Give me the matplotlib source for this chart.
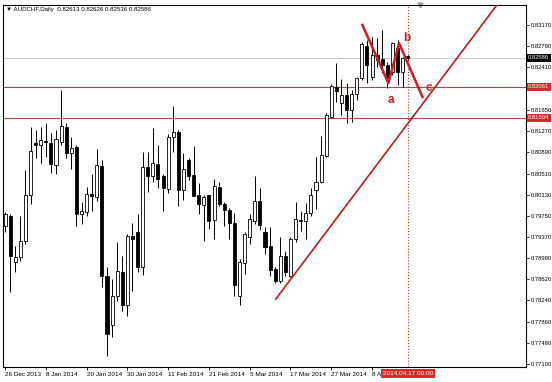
import pandas as pd
import matplotlib.pyplot as plt
import matplotlib.transforms as mtransforms

plt.rcParams['font.family'] = ['Liberation Sans', 'DejaVu Sans']

# AUDCHF daily OHLC, 26 Dec 2013 - 17 Apr 2014
opens = [0.79563, 0.79742, 0.78920, 0.79010, 0.79295, 0.80117, 0.81063, 0.81027, 0.81099, 0.81063,
         0.80670, 0.81081, 0.81349, 0.80884, 0.80991, 0.79777, 0.79813, 0.80138, 0.80084, 0.80652,
         0.78678, 0.77796, 0.78317, 0.78742, 0.78153, 0.79385, 0.79456, 0.78831, 0.80634, 0.80474,
         0.80688, 0.80474, 0.80224, 0.81170, 0.81259, 0.80206, 0.80759, 0.80492, 0.80120, 0.79938,
         0.80117, 0.79670, 0.80277, 0.79956, 0.79849, 0.79617, 0.78317, 0.78903, 0.79367, 0.79652,
         0.80010, 0.79456, 0.79206, 0.78795, 0.78581, 0.79028, 0.78678, 0.79331, 0.79670, 0.79652,
         0.79795, 0.80206, 0.80367, 0.80831, 0.81527, 0.82063, 0.81777, 0.81920, 0.81652, 0.81938,
         0.82223, 0.82795, 0.82241, 0.82634, 0.82563, 0.82456, 0.82331, 0.82759, 0.82331, 0.82613]
highs = [0.79813, 0.79777, 0.79206, 0.79742, 0.80581, 0.81349, 0.81295, 0.81349, 0.81420, 0.81241,
         0.81295, 0.82009, 0.81420, 0.81170, 0.81027, 0.79992, 0.80277, 0.80509, 0.80956, 0.80759,
         0.78831, 0.78617, 0.79278, 0.79028, 0.79420, 0.79617, 0.79777, 0.80902, 0.80902, 0.81331,
         0.81027, 0.80509, 0.81224, 0.81723, 0.81295, 0.80884, 0.80795, 0.81009, 0.80349, 0.80120,
         0.80130, 0.80420, 0.80367, 0.79992, 0.79885, 0.79795, 0.78974, 0.79456, 0.79777, 0.80474,
         0.80259, 0.79545, 0.79545, 0.78831, 0.79367, 0.79117, 0.79367, 0.79992, 0.79831, 0.79974,
         0.80259, 0.80813, 0.81188, 0.81599, 0.82116, 0.82491, 0.82206, 0.82134, 0.82009, 0.82241,
         0.82866, 0.82902, 0.82955, 0.82938, 0.83080, 0.82509, 0.82860, 0.82902, 0.82598, 0.82626]
lows = [0.79456, 0.78385, 0.78742, 0.78938, 0.79242, 0.79956, 0.80795, 0.80706, 0.80813, 0.80527,
        0.80509, 0.81027, 0.80795, 0.80599, 0.79563, 0.79599, 0.79742, 0.79831, 0.80010, 0.78481,
        0.77242, 0.77581, 0.78224, 0.78046, 0.77956, 0.78403, 0.78742, 0.78695, 0.80188, 0.80367,
        0.80259, 0.79831, 0.80156, 0.80902, 0.79920, 0.80027, 0.80402, 0.80117, 0.79777, 0.79295,
        0.79510, 0.79331, 0.79920, 0.79563, 0.79331, 0.78317, 0.78153, 0.78706, 0.79242, 0.79599,
        0.79492, 0.79063, 0.78678, 0.78545, 0.78545, 0.78678, 0.78660, 0.79278, 0.79474, 0.79331,
        0.79742, 0.79867, 0.80349, 0.80813, 0.81509, 0.81795, 0.81563, 0.81420, 0.81438, 0.81831,
        0.82188, 0.82134, 0.82188, 0.82420, 0.82313, 0.82045, 0.82277, 0.82098, 0.82063, 0.82536]
closes = [0.79777, 0.79028, 0.79010, 0.79295, 0.80117, 0.80920, 0.81027, 0.81116, 0.81081, 0.80688,
          0.81134, 0.81366, 0.80884, 0.80974, 0.79777, 0.79831, 0.80138, 0.80102, 0.80670, 0.78678,
          0.77635, 0.78317, 0.78760, 0.78153, 0.79385, 0.79331, 0.78831, 0.80634, 0.80474, 0.80706,
          0.80420, 0.80242, 0.81170, 0.81259, 0.80206, 0.80599, 0.80474, 0.80102, 0.79956, 0.80084,
          0.79652, 0.80295, 0.79956, 0.79849, 0.79617, 0.78510, 0.78920, 0.79420, 0.79688, 0.80010,
          0.79581, 0.79188, 0.78778, 0.78581, 0.79028, 0.78742, 0.79331, 0.79688, 0.79652, 0.79795,
          0.80120, 0.80367, 0.80849, 0.81563, 0.82081, 0.81991, 0.81920, 0.81652, 0.81938, 0.82223,
          0.82830, 0.82456, 0.82634, 0.82545, 0.82456, 0.82241, 0.82848, 0.82331, 0.82581, 0.82586]

# trading days (no bar on 1 Jan)
dates = pd.bdate_range('2013-12-26', '2014-04-17')
dates = dates[dates != pd.Timestamp('2014-01-01')]

date_ticks = ['2013-12-26', '2014-01-08', '2014-01-20', '2014-01-30', '2014-02-11',
              '2014-02-21', '2014-03-05', '2014-03-17', '2014-03-27', '2014-04-08']
date_labels = ['26 Dec 2013', '8 Jan 2014', '20 Jan 2014', '30 Jan 2014', '11 Feb 2014',
               '21 Feb 2014', '5 Mar 2014', '17 Mar 2014', '27 Mar 2014', '8 Apr 2014']

price_ticks = [0.83170, 0.82790, 0.82410, 0.81650, 0.81270, 0.80890, 0.80510, 0.80130,
               0.79750, 0.79370, 0.78990, 0.78620, 0.78240, 0.77860, 0.77480, 0.77100]

bid = 0.82586
levels = [0.82061, 0.81504]

# drawn objects (bar index, price)
trend_x = [53.1, 96.5]
trend_y = [0.78260, 0.83527]
zigzag_x = [70.1, 75.2, 77.3, 81.9]
zigzag_y = [0.83170, 0.82129, 0.82843, 0.81879]
wave_labels = ['a', 'b', 'c']
wave_x = [75.8, 78.8, 83.1]
wave_y = [0.81831, 0.82938, 0.82045]
cursor_idx = 79

fig = plt.figure(figsize=(5.52, 3.82), dpi=100)
ax = fig.add_axes([3 / 552, 1 - 367 / 382, 523 / 552, 362 / 382])

x = list(range(len(opens)))

# candles
ax.vlines(x, lows, highs, color='black', linewidth=0.7, zorder=2)
bottoms = [min(o, c) for o, c in zip(opens, closes)]
heights = [max(abs(c - o), 0.00006) for o, c in zip(opens, closes)]
colors = ['white' if c >= o else 'black' for o, c in zip(opens, closes)]
ax.bar(x, heights, bottom=bottoms, width=0.6, color=colors, edgecolor='black',
       linewidth=0.6, zorder=3)

# lines
ax.axhline(bid, color='#c8c8c8', linewidth=0.7, zorder=1)
for lv in levels:
    ax.axhline(lv, color='#b04848', linewidth=0.8, zorder=1)
ax.axvline(cursor_idx, color='#c03030', linestyle=':', linewidth=0.8, zorder=1)

slope = (trend_y[1] - trend_y[0]) / (trend_x[1] - trend_x[0])
ax.plot([trend_x[0], 110], [trend_y[0], trend_y[0] + slope * (110 - trend_x[0])],
        color='#b81e1e', linewidth=1.2, zorder=4)
ax.plot(zigzag_x, zigzag_y, color='#cc2020', linewidth=1.8, zorder=4)
for t, wx, wy in zip(wave_labels, wave_x, wave_y):
    ax.text(wx, wy, t, color='#cc2020', fontsize=8.5, fontweight='bold',
            ha='center', va='center', zorder=5)

# chart shift marker
ax.plot([81.4], [1.0], marker='v', color='#a0a0a0', markersize=3.5, clip_on=False,
        transform=mtransforms.blended_transform_factory(ax.transData, ax.transAxes))

ax.set_xlim(-0.4, 102.2)
ax.set_ylim(0.77046, 0.83527)

ax.yaxis.tick_right()
ax.set_yticks(price_ticks)
ax.set_yticklabels(['%.5f' % p for p in price_ticks])
tick_pos = [dates.get_loc(pd.Timestamp(d)) for d in date_ticks]
ax.set_xticks(tick_pos)
ax.set_xticklabels(date_labels, ha='left')
ax.tick_params(axis='both', length=2, width=0.6, pad=1.5, colors='black')
ax.tick_params(axis='y', labelsize=4.2)
ax.tick_params(axis='x', labelsize=4.6)
for s in ax.spines.values():
    s.set_linewidth(0.8)

# price labels on the axis
ty = mtransforms.blended_transform_factory(ax.transAxes, ax.transData)
ax.text(1.004, bid, '%.5f' % bid, transform=ty, fontsize=4.2, color='white', va='center',
        ha='left', bbox=dict(boxstyle='square,pad=0.25', fc='black', ec='none'), zorder=6)
for lv in levels:
    ax.text(1.004, lv, '%.5f' % lv, transform=ty, fontsize=4.2, color='white', va='center',
            ha='left', bbox=dict(boxstyle='square,pad=0.25', fc='#d42a2a', ec='none'), zorder=6)

# cursor date label
tx = mtransforms.blended_transform_factory(ax.transData, ax.transAxes)
ax.text(cursor_idx, -0.011, dates[cursor_idx].strftime('%Y.%m.%d %H:%M'), transform=tx,
        fontsize=4.6, color='white', va='top', ha='center',
        bbox=dict(boxstyle='square,pad=0.3', fc='#d42a2a', ec='none'), zorder=6)

fig.text(6 / 552, 1 - 10 / 382, '▼ AUDCHF,Daily  0.82613 0.82626 0.82536 0.82586',
         fontsize=4.4, va='center', ha='left')

fig.savefig('out.png', dpi=100)
